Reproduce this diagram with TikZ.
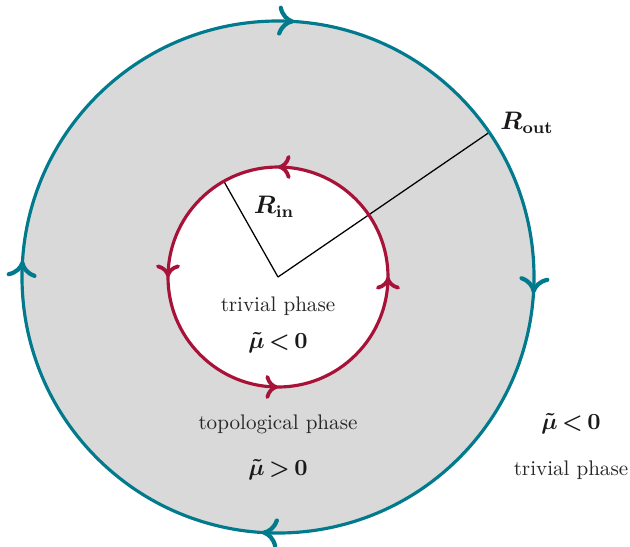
\documentclass[tikz,border=0pt]{standalone}
\usepackage{amsmath,bm}
\usetikzlibrary{arrows.meta,decorations.markings}

\definecolor{ringteal}{RGB}{0,122,140}
\definecolor{ringred}{RGB}{168,18,56}
\definecolor{phasegray}{RGB}{217,217,217}

\tikzset{
  outertip/.tip={Computer Modern Rightarrow[length=2.7mm,width=5mm,line width=2pt]},
  innertip/.tip={Computer Modern Rightarrow[length=2.1mm,width=4mm,line width=1.8pt]},
  outerring/.style={draw=ringteal, line width=1.5pt,
    postaction={decorate, decoration={markings,
      mark=at position 0.115 with {\arrowreversed[ringteal]{outertip}},
      mark=at position 0.365 with {\arrowreversed[ringteal]{outertip}},
      mark=at position 0.615 with {\arrowreversed[ringteal]{outertip}},
      mark=at position 0.865 with {\arrowreversed[ringteal]{outertip}}}}},
  innerring/.style={draw=ringred, line width=1.5pt,
    postaction={decorate, decoration={markings,
      mark=at position 0.125 with {\arrow[ringred]{innertip}},
      mark=at position 0.375 with {\arrow[ringred]{innertip}},
      mark=at position 0.625 with {\arrow[ringred]{innertip}},
      mark=at position 0.875 with {\arrow[ringred]{innertip}}}}},
  radius line/.style={line width=0.6pt, black},
  phase text/.style={text=black!85},
  bold label/.style={font=\fontsize{11}{13}\selectfont\boldmath, text=black!90}
}

\begin{document}
\begin{tikzpicture}[x=0.016667cm, y=0.016667cm]
    \useasboundingbox (-278,-269) rectangle (352,277);

    % Regions
    \fill[phasegray] (0,0) circle[radius=256];
    \fill[white] (0,0) circle[radius=110];

    % Radii
    \coordinate (O) at (0,0);
    \coordinate (Rout) at (34.4:256);
    \coordinate (Rin) at (119.5:110);
    \draw[radius line] (O) -- (Rout);
    \draw[radius line] (O) -- (Rin);

    % Boundaries
    \path[outerring] (45:256) arc[start angle=45, end angle=405, radius=256];
    \path[innerring] (45:110) arc[start angle=45, end angle=405, radius=110];

    % Labels
    \node[bold label, anchor=west, font=\large\boldmath] (routlabel) at (215,154) {$R_{\mathrm{out}}$};
    \node[bold label, font=\large\boldmath] (rinlabel) at (-4,70) {$R_{\mathrm{in}}$};

    \node[phase text] (innerphase) at (0,-29) {trivial phase};
    \node[bold label] (innermu) at (0,-66) {$\tilde{\mu}\mkern3mu{<}\mkern3mu0$};

    \node[phase text] (ringphase) at (0,-147) {topological phase};
    \node[bold label] (ringmu) at (0,-193) {$\tilde{\mu}\mkern3mu{>}\mkern3mu0$};

    \node[bold label] (outermu) at (293,-147) {$\tilde{\mu}\mkern3mu{<}\mkern3mu0$};
    \node[phase text] (outerphase) at (293,-193) {trivial phase};
\end{tikzpicture}
\end{document}
